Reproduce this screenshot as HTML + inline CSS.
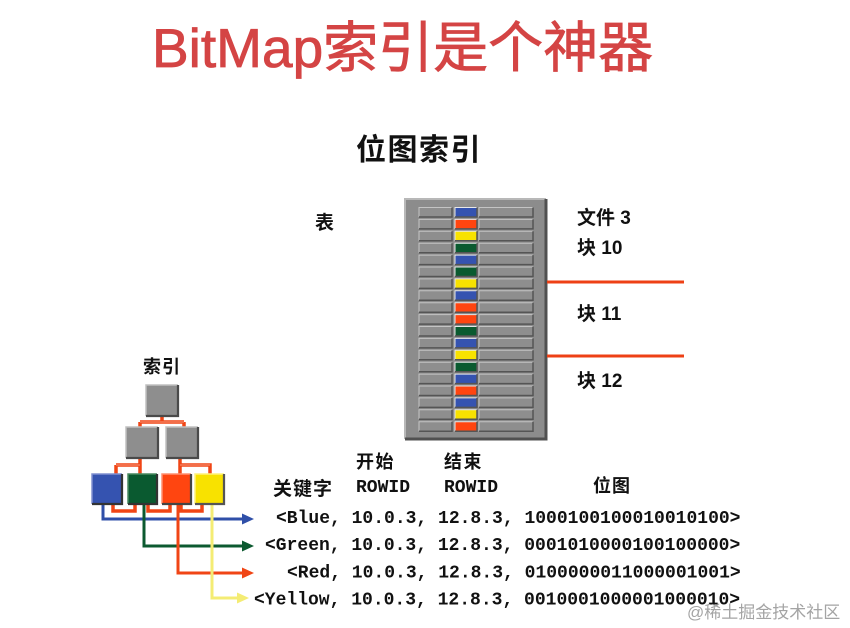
<!DOCTYPE html>
<html><head><meta charset="utf-8"><style>
html,body{margin:0;padding:0;background:#fff;}
svg{display:block;}
</style></head><body>
<svg width="850" height="628" viewBox="0 0 850 628" xmlns="http://www.w3.org/2000/svg">
<rect width="850" height="628" fill="#fff"/>
<!-- Title -->
<text x="152" y="67" font-family="Liberation Sans, Noto Sans CJK SC, sans-serif" font-size="55" fill="#d44444" stroke="#d44444" stroke-width="0.8">BitMap索引是个神器</text>
<text x="356" y="160" font-family="Liberation Sans, Noto Sans CJK SC, sans-serif" font-size="30" font-weight="bold" letter-spacing="1.5" fill="#111">位图索引</text>
<text x="315" y="229" font-family="Liberation Sans, Noto Sans CJK SC, sans-serif" font-size="19" font-weight="bold" fill="#111">表</text>

<!-- Table -->
<rect x="405" y="199" width="141" height="240" fill="#8c8c8c"/>
<path d="M405,439 V199 H546" fill="none" stroke="#b8b8b8" stroke-width="2"/>
<path d="M405,439 H546 V199" fill="none" stroke="#505050" stroke-width="3"/>
<g id="rows"></g>

<!-- right labels and lines -->
<line x1="547" y1="282" x2="684" y2="282" stroke="#ee4015" stroke-width="3"/>
<line x1="547" y1="356" x2="684" y2="356" stroke="#ee4015" stroke-width="3"/>
<g font-family="Liberation Sans, Noto Sans CJK SC, sans-serif" font-size="19" font-weight="bold" fill="#111">
<text x="577" y="224">文件 3</text>
<text x="577" y="254">块 10</text>
<text x="577" y="320">块 11</text>
<text x="577" y="387">块 12</text>
</g>

<!-- Tree -->
<text x="143" y="373" font-family="Liberation Sans, Noto Sans CJK SC, sans-serif" font-size="18" font-weight="bold" letter-spacing="1" fill="#111">索引</text>
<g fill="none" stroke="#f04515" stroke-width="3.5">
<path d="M162,416 V422 M140,422 H184 M140,422 V427 M184,422 V427"/>
<path d="M140,458 V474 M116,465 H140 M116,465 V474"/>
<path d="M180,458 V474 M180,465 H210 V474"/>
<path d="M113,504 V511 H135 V504"/>
<path d="M148,504 V511 H170 V504"/>
<path d="M181,504 V511 H202 V504"/>
</g>
<g fill="none" stroke="#fff" stroke-width="1" opacity="0.45">
<path d="M140,422 H184"/>
<path d="M116,465 H140 M180,465 H210"/>
</g>

<!-- arrows -->
<g fill="none" stroke-width="3">
<path d="M103,504 V519 H244" stroke="#2f4fa8"/>
<path d="M144,505 V546 H244" stroke="#0c5a30"/>
<path d="M178,505 V573 H244" stroke="#f04515"/>
<path d="M212,505 V598 H239" stroke="#f4ec74"/>
</g>
<polygon points="242,513.5 254,519 242,524.5" fill="#2f4fa8"/>
<polygon points="242,540.5 254,546 242,551.5" fill="#0c5a30"/>
<polygon points="242,567.5 254,573 242,578.5" fill="#f04515"/>
<polygon points="237,592.5 249,598 237,603.5" fill="#f4ec74"/>

<!-- boxes -->
<g id="boxes"></g>

<!-- header text -->
<g font-family="Liberation Sans, Noto Sans CJK SC, sans-serif" font-weight="bold" fill="#111">
<text x="356" y="468" font-size="18" letter-spacing="1.5">开始</text>
<text x="444" y="468" font-size="18" letter-spacing="1.5">结束</text>
<text x="273" y="495" font-size="19" letter-spacing="1">关键字</text>
<text x="593" y="492" font-size="18" letter-spacing="1">位图</text>
</g>
<g font-family="Liberation Mono, monospace" font-weight="bold" font-size="18" fill="#111">
<text x="356" y="492">ROWID</text>
<text x="444" y="492">ROWID</text>
<text x="276" y="523" xml:space="preserve">&lt;Blue, 10.0.3, 12.8.3, 1000100100010010100&gt;</text>
<text x="265" y="550" xml:space="preserve">&lt;Green, 10.0.3, 12.8.3, 0001010000100100000&gt;</text>
<text x="287" y="577.5" xml:space="preserve">&lt;Red, 10.0.3, 12.8.3, 0100000011000001001&gt;</text>
<text x="254" y="604.5" xml:space="preserve">&lt;Yellow, 10.0.3, 12.8.3, 0010001000001000010&gt;</text>
</g>

<!-- watermark -->
<text x="687" y="618" font-family="Liberation Sans, Noto Sans CJK SC, sans-serif" font-size="17" fill="#a4a4a4">@稀土掘金技术社区</text>
</svg>
<script>
(function(){
var ns="http://www.w3.org/2000/svg";
function el(t,a,p){var e=document.createElementNS(ns,t);for(var k in a)e.setAttribute(k,a[k]);p.appendChild(e);return e;}
function bev(p,x,y,w,h,fill,hi,lo,lw){
 el('rect',{x:x,y:y,width:w,height:h,fill:fill},p);
 el('path',{d:'M'+x+','+(y+h)+' V'+y+' H'+(x+w),fill:'none',stroke:hi,'stroke-width':lw||1},p);
 el('path',{d:'M'+x+','+(y+h)+' H'+(x+w)+' V'+y,fill:'none',stroke:lo,'stroke-width':(lw||1)*1.5},p);
}
var C={b:'#3553b0',r:'#ff4510',y:'#f8e200',g:'#0a5a30'};
var seq='brygbgybrrgbygbrbyr';
var rows=document.getElementById('rows');
for(var i=0;i<19;i++){
 var y=207.5+i*11.9;
 bev(rows,419,y,33,9.5,'#8e8e8e','#c4c4c4','#555');
 bev(rows,455,y,22,9.5,C[seq[i]],'#e8e8e8','#555');
 bev(rows,479,y,54,9.5,'#8e8e8e','#c4c4c4','#555');
}
var bx=document.getElementById('boxes');
bev(bx,146,385,32,31,'#8e8e8e','#c0c0c0','#4a4a4a',1.5);
bev(bx,126,427,32,31,'#8e8e8e','#c0c0c0','#4a4a4a',1.5);
bev(bx,166,427,32,31,'#8e8e8e','#c0c0c0','#4a4a4a',1.5);
bev(bx,92,474,30,30,'#3553b0','#8090d0','#333',1.5);
bev(bx,128,474,29,30,'#0a5a30','#4a8a60','#333',1.5);
bev(bx,162,474,29,30,'#ff4510','#ff9070','#444',1.5);
bev(bx,195,474,29,30,'#f8e200','#fff27a','#555',1.5);
})();
</script>
</body></html>
